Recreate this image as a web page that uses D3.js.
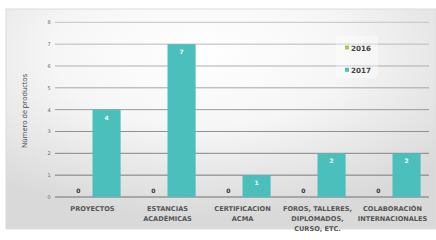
<!DOCTYPE html>
<html><head><meta charset="utf-8">
<script src="https://cdn.jsdelivr.net/npm/d3@7/dist/d3.min.js"></script>
<style>body{margin:0;background:#fff}svg{display:block}</style>
</head><body>
<script>
const categories = [["PROYECTOS"],["ESTANCIAS","ACADÉMICAS"],["CERTIFICACION","ACMA"],["FOROS, TALLERES,","DIPLOMADOS,","CURSO, ETC."],["COLABORACIÓN","INTERNACIONALES"]];
const series = ["2016","2017"];
const values2016 = [0,0,0,0,0];
const values2017 = [4,7,1,2,2];
const yTicks = [0,1,2,3,4,5,6,7,8];
const yTitle = "Número de productos";
const colors = ["#9ccb4e","#4bbfbb"];

const W=436,H=240;
const svg=d3.select("body").append("svg").attr("width",W).attr("height",H);
const defs=svg.append("defs");
const g1=defs.append("radialGradient").attr("id","bg").attr("cx","0.45").attr("cy","0.2").attr("r","0.75");
g1.append("stop").attr("offset","0").attr("stop-color","#ffffff");
g1.append("stop").attr("offset","0.45").attr("stop-color","#f6f6f6");
g1.append("stop").attr("offset","1").attr("stop-color","#d9d9d9");
svg.append("rect").attr("x",6).attr("y",9).attr("width",W-6).attr("height",220).attr("fill","url(#bg)").attr("stroke","#dcdcdc");

const x0=d3.scaleBand().domain(d3.range(categories.length)).range([55,430]).paddingInner(0.25).paddingOuter(0.125);
const x1=d3.scaleBand().domain(series).range([0,x0.bandwidth()]);
const y=d3.scaleLinear().domain([0,8]).range([197,22.3]);

const gc=d3.scaleLinear().domain([0,8]).range(["#707070","#c4c4c4"]);
svg.append("g").selectAll("line").data(yTicks).join("line")
 .attr("x1",55).attr("x2",429).attr("y1",d=>y(d)).attr("y2",d=>y(d))
 .attr("stroke",d=>gc(d)).attr("stroke-width",1);
svg.append("g").selectAll("text").data(yTicks).join("text")
 .attr("x",49).attr("y",d=>y(d)+2).attr("text-anchor","middle")
 .attr("font-family","DejaVu Sans").attr("font-size",5).attr("fill","#666").text(d=>d);

svg.append("text").attr("transform","translate(27,111) rotate(-90)").attr("text-anchor","middle")
 .attr("font-family","Open Sans").attr("font-size",7.2).attr("fill","#444").text(yTitle);

const data=[values2016,values2017];
series.forEach((s,si)=>{
  const gg=svg.append("g");
  gg.selectAll("rect").data(data[si]).join("rect")
   .attr("x",(d,i)=>x0(i)+x1(s)).attr("width",x1.bandwidth())
   .attr("y",d=>y(d)).attr("height",d=>y(0)-y(d)).attr("fill",colors[si]);
  gg.selectAll("text").data(data[si]).join("text")
   .attr("x",(d,i)=>x0(i)+x1(s)+x1.bandwidth()/2)
   .attr("y",d=>d>0?y(d)+10:y(0)-4)
   .attr("text-anchor","middle").attr("font-family","DejaVu Sans").attr("font-weight","bold")
   .attr("font-size",6).attr("fill",d=>d>0?"#ffffff":"#333").text(d=>d);
});

const cat=svg.append("g");
categories.forEach((lines,i)=>{
  const t=cat.append("text").attr("x",x0(i)+x0.bandwidth()/2).attr("text-anchor","middle")
   .attr("font-family","DejaVu Sans").attr("font-weight","bold").attr("font-size",6.6).attr("fill","#555");
  lines.forEach((l,j)=>t.append("tspan").attr("x",x0(i)+x0.bandwidth()/2).attr("y",211+j*10).text(l));
});

const lg=svg.append("g");
lg.append("rect").attr("x",336).attr("y",36).attr("width",42).attr("height",42).attr("fill","#ffffff").attr("opacity",0.35);
series.forEach((s,i)=>{
  lg.append("rect").attr("x",345).attr("y",45.5+i*22.3).attr("width",4).attr("height",4).attr("fill",colors[i]);
  lg.append("text").attr("x",351).attr("y",50.5+i*22.3).attr("font-family","DejaVu Sans").attr("font-weight","bold")
   .attr("font-size",7.2).attr("fill","#444").text(s);
});
</script>
</body></html>
